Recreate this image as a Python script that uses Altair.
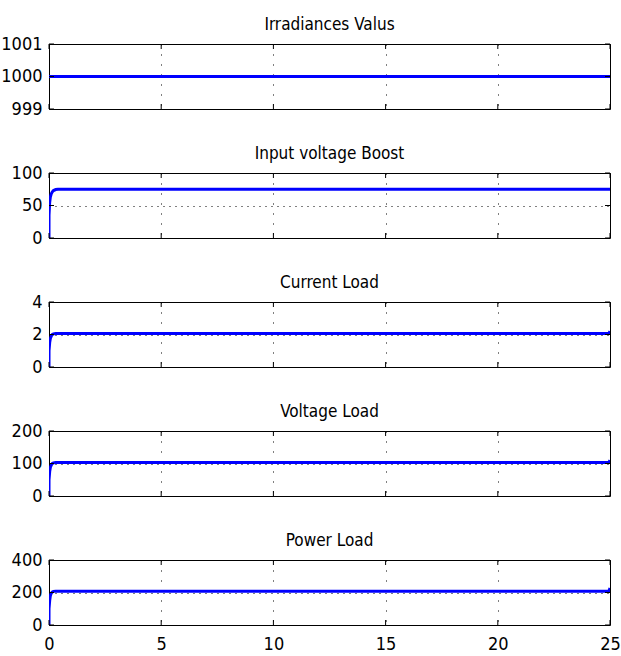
import altair as alt
import pandas as pd

# time samples (s)
t = [0, 0.001, 0.03, 0.06, 0.1, 0.15, 0.2, 0.3, 0.4, 0.6, 24.95, 25]

irradiance = [1000, 1000, 1000, 1000, 1000, 1000, 1000, 1000, 1000, 1000, 1000, 1000]
v_input = [0, 35, 55, 63, 68, 71, 73, 74.5, 75, 75, 75, 75]
i_load = [0, 1.0, 1.5, 1.75, 1.9, 2.0, 2.04, 2.06, 2.06, 2.06, 2.06, 2.2]
v_load = [0, 50, 75, 88, 95, 100, 102, 103, 103, 103, 103, 110]
p_load = [0, 100, 150, 180, 195, 203, 207, 208, 208, 208, 208, 228]

titles = ["Irradiances Valus", "Input voltage Boost", "Current Load", "Voltage Load", "Power Load"]
series = [irradiance, v_input, i_load, v_load, p_load]
y_domains = [[999, 1001], [0, 100], [0, 4], [0, 200], [0, 400]]
y_ticks = [[999, 1000, 1001], [0, 50, 100], [0, 2, 4], [0, 100, 200], [0, 200, 400]]
x_ticks = [0, 5, 10, 15, 20, 25]

FONT = "'DejaVu Sans Condensed', 'Liberation Sans Narrow', sans-serif"
W, H = 561, 65
TL = 5  # inward tick length


def panel(title, vals, dom, yt, show_x):
    df = pd.DataFrame({"t": t, "v": vals})
    xaxis = alt.Axis(values=x_ticks, grid=True, gridDash=[1, 9], gridColor="black",
                     gridOpacity=1, gridWidth=1, labels=show_x, ticks=False, domain=False,
                     title=None, labelPadding=10, labelFlush=False, labelOverlap=False,
                     labelExpr="'' + datum.value")
    yaxis = alt.Axis(values=yt, grid=True, gridDash=[1, 5], gridColor="black",
                     gridOpacity=1, gridWidth=1, ticks=False, domain=False, title=None,
                     labelPadding=7, labelFlush=False, labelOverlap=False,
                     labelExpr="'' + datum.value")
    X = alt.X("t:Q", scale=alt.Scale(domain=[0, 25], nice=False, zero=False), axis=xaxis)
    Y = alt.Y("v:Q", scale=alt.Scale(domain=dom, nice=False, zero=False), axis=yaxis)

    xt = pd.DataFrame({"t": x_ticks})
    ytd = pd.DataFrame({"v": yt})
    top = alt.Chart(xt).mark_rule(color="black").encode(x=X, y=alt.value(0), y2=alt.value(TL))
    bot = alt.Chart(xt).mark_rule(color="black").encode(x=X, y=alt.value(H), y2=alt.value(H - TL))
    left = alt.Chart(ytd).mark_rule(color="black").encode(y=Y, x=alt.value(0), x2=alt.value(TL))
    right = alt.Chart(ytd).mark_rule(color="black").encode(y=Y, x=alt.value(W), x2=alt.value(W - TL))
    line = alt.Chart(df).mark_line(color="#0000ff", strokeWidth=3, clip=True).encode(x=X, y=Y)
    return alt.layer(line, top, bot, left, right).properties(
        width=W, height=H, title=alt.TitleParams(title, anchor="middle", frame="group"))


panels = [panel(titles[i], series[i], y_domains[i], y_ticks[i], i == 4) for i in range(5)]

chart = (
    alt.vconcat(*panels, spacing=64, bounds="flush")
    .properties(padding={"left": 0, "top": 15, "right": 0, "bottom": 0}, background="white")
    .configure_view(stroke="black", strokeWidth=1)
    .configure_axis(labelFont=FONT, labelFontSize=18, labelColor="black")
    .configure_title(font=FONT, fontSize=17, fontWeight="normal", color="black", offset=1)
)

chart.save("out.html", embed_options={"renderer": "svg", "actions": False})
